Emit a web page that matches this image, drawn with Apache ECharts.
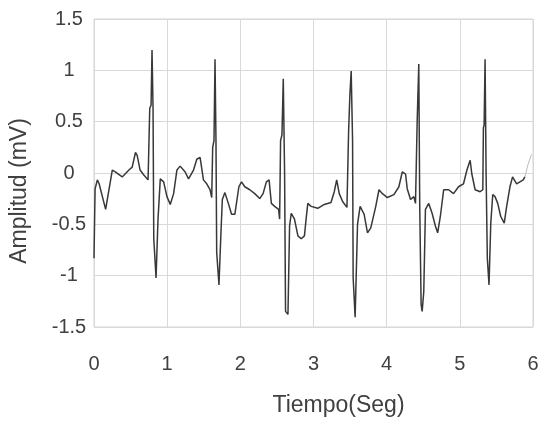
<!DOCTYPE html>
<html>
<head>
<meta charset="utf-8">
<script src="https://cdn.jsdelivr.net/npm/echarts@6/dist/echarts.min.js"></script>
<style>
html,body{margin:0;padding:0;background:#fff;}
#chart{width:545px;height:422px;}
</style>
</head>
<body>
<div id="chart"></div>
<script>
// ECG trace: time (s) and amplitude (mV)
var time = [0.0,0.015,0.046,0.069,0.159,0.25,0.291,0.386,0.477,0.522,0.567,0.59,0.63,0.681,0.739,0.762,0.78,0.793,0.807,0.817,0.848,0.875,0.906,0.952,0.997,1.042,1.088,1.133,1.178,1.246,1.292,1.36,1.405,1.45,
1.496,1.541,1.586,1.609,1.622,1.64,1.654,1.667,1.677,1.708,1.735,1.754,1.789,1.836,1.88,1.925,1.98,2.016,2.061,2.129,2.197,2.265,2.311,2.356,2.393,2.424,2.469,2.523,2.537,2.55,2.569,2.587,2.605,2.618,2.651,2.673,2.696,2.74,2.787,2.832,2.876,2.899,2.922,2.967,
3.058,3.148,3.239,3.284,3.317,3.352,3.398,3.457,3.48,3.497,3.515,3.534,3.542,3.569,3.602,3.637,3.692,3.738,3.783,3.851,3.895,3.942,4.01,4.099,4.167,4.213,4.258,4.281,4.326,4.371,4.394,4.417,4.439,4.452,4.471,4.485,4.507,4.53,4.575,4.621,4.666,4.697,4.734,4.779,4.846,4.914,4.982,5.05,5.097,5.141,5.164,5.209,5.277,5.314,5.322,5.332,5.345,5.359,5.376,5.399,5.423,5.45,5.481,5.518,5.558,5.607,5.64,5.685,5.721,5.776,5.821,5.866,5.889];
var amplitude = [-0.83,-0.153,-0.067,-0.102,-0.354,0.029,0.01,-0.038,0.029,0.057,0.2,0.172,0.029,-0.019,-0.067,0.631,0.66,1.198,0.631,-0.641,-1.023,-0.449,-0.057,-0.086,-0.23,-0.306,-0.201,0.029,0.067,0.01,-0.057,0.029,0.134,0.153,
-0.067,-0.105,-0.163,-0.239,0.249,0.315,1.109,0.315,-0.774,-1.09,-0.583,-0.258,-0.191,-0.296,-0.402,-0.402,-0.134,-0.086,-0.134,-0.163,-0.201,-0.249,-0.201,-0.086,-0.067,-0.296,-0.325,-0.354,-0.449,0.315,0.373,0.918,-0.01,-1.348,-1.377,-0.516,-0.392,-0.449,-0.612,-0.641,-0.612,-0.449,-0.296,-0.325,
-0.344,-0.306,-0.287,-0.182,-0.067,-0.201,-0.277,-0.335,0.411,0.755,0.994,0.315,-1.023,-1.405,-0.497,-0.325,-0.402,-0.583,-0.535,-0.325,-0.163,-0.201,-0.239,-0.21,-0.134,0.01,-0.01,-0.153,-0.258,-0.23,-0.296,0.507,1.061,-0.325,-1.281,-1.348,-1.157,-0.354,-0.296,-0.392,-0.516,-0.583,-0.421,-0.163,-0.163,-0.201,-0.134,-0.105,0.029,0.124,-0.01,-0.163,-0.182,-0.163,0.44,0.468,1.109,-0.01,-0.832,-1.09,-0.488,-0.21,-0.23,-0.296,-0.421,-0.488,-0.325,-0.134,-0.038,-0.105,-0.086,-0.067,-0.038];
// faint tail at the end of the record
var tailTime = [5.889,5.933,5.98];
var tailAmplitude = [-0.038,0.086,0.182];
var xTicks = [0,1,2,3,4,5,6];
var yTicks = [-1.5,-1,-0.5,0,0.5,1,1.5];

function pairs(xs, ys){ var o=[]; for(var i=0;i<xs.length;i++) o.push([xs[i], ys[i]]); return o; }

var chart = echarts.init(document.getElementById('chart'), null, {renderer:'canvas'});
var font = 'Liberation Sans, Arial, sans-serif';
chart.setOption({
  animation:false,
  backgroundColor:'#fff',
  grid:{left:92, right:12, top:19, bottom:89, containLabel:false, show:true, borderColor:'#d4d4d4', borderWidth:1},
  xAxis:{
    type:'value', min:xTicks[0], max:xTicks[xTicks.length-1], interval:1,
    name:'Tiempo(Seg)', nameLocation:'middle', nameGap:67,
    nameTextStyle:{fontFamily:font, fontSize:23, color:'#404040', padding:[0,0,0,50]},
    axisLine:{show:false}, axisTick:{show:false},
    axisLabel:{fontFamily:font, fontSize:20, color:'#404040', margin:27},
    splitLine:{show:true, lineStyle:{color:'#d9d9d9', width:1}}
  },
  yAxis:{
    type:'value', min:yTicks[0], max:yTicks[yTicks.length-1], interval:0.5,
    name:'Amplitud (mV)', nameLocation:'middle', nameGap:63,
    nameTextStyle:{fontFamily:font, fontSize:23, color:'#404040', padding:[0,36,0,0]},
    axisLine:{show:false}, axisTick:{show:false},
    axisLabel:{fontFamily:font, fontSize:20, color:'#404040', margin:25, align:'center'},
    splitLine:{show:true, lineStyle:{color:'#d9d9d9', width:1}}
  },
  series:[
    {type:'line', data:pairs(time, amplitude), showSymbol:false, symbol:'none',
     lineStyle:{color:'#383838', width:1.5}, z:3},
    {type:'line', data:pairs(tailTime, tailAmplitude), showSymbol:false, symbol:'none',
     lineStyle:{color:'#bdbdbd', width:1}, z:2}
  ]
});
</script>
</body>
</html>
